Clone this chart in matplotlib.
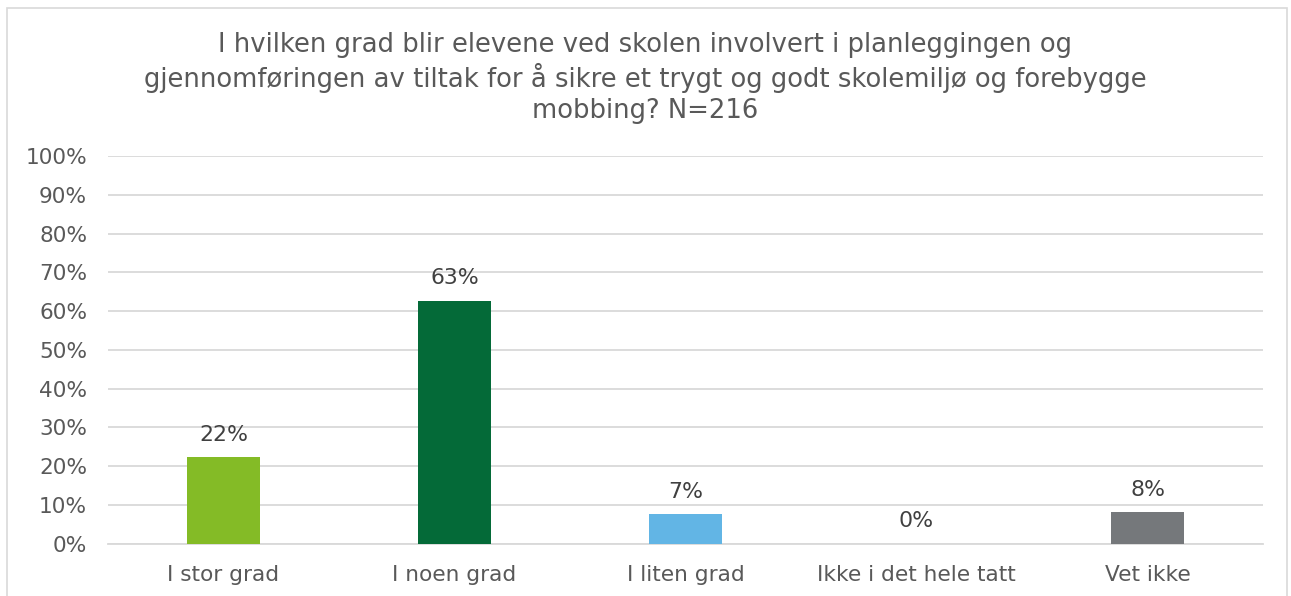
import matplotlib
matplotlib.use("Agg")
import matplotlib.pyplot as plt
from matplotlib.patches import Rectangle
from matplotlib.ticker import MultipleLocator, FuncFormatter

categories = ["I stor grad", "I noen grad", "I liten grad", "Ikke i det hele tatt", "Vet ikke"]
values = [22.4, 62.7, 7.6, 0.0, 8.1]
value_labels = ["22%", "63%", "7%", "0%", "8%"]
colors = ["#84BB26", "#046A38", "#62B5E5", "#A5A5A5", "#75787B"]
title = ("I hvilken grad blir elevene ved skolen involvert i planleggingen og\n"
         "gjennomføringen av tiltak for å sikre et trygt og godt skolemiljø og forebygge\n"
         "mobbing? N=216")

plt.rcParams['font.family'] = ['DejaVu Sans']
W, H = 1291, 596
fig = plt.figure(figsize=(W / 100, H / 100), dpi=100)
fig.patch.set_facecolor("white")

# outer chart border
fig.add_artist(Rectangle((7 / W, -0.01), (1287 - 7) / W, (H - 8) / H + 0.01,
                         transform=fig.transFigure, fill=False,
                         edgecolor="#D9D9D9", linewidth=1.2))

left, right, top, bottom = 108, 1263, 156, 543.7
ax = fig.add_axes([left / W, 1 - bottom / H, (right - left) / W, (bottom - top) / H])
x = list(range(len(categories)))
ax.bar(x, values, width=0.316, color=colors, zorder=3)
ax.set_xlim(-0.5, len(categories) - 0.5)
ax.set_ylim(0, 100)
ax.yaxis.set_major_locator(MultipleLocator(10))
ax.yaxis.set_major_formatter(FuncFormatter(lambda v, p: f"{v:.0f}%"))
ax.grid(axis="y", color="#D9D9D9", linewidth=1.3, zorder=0)
ax.set_axisbelow(True)
for s in ["top", "right", "left"]:
    ax.spines[s].set_visible(False)
ax.spines["bottom"].set_color("#D9D9D9")
ax.spines["bottom"].set_linewidth(1.3)
ax.tick_params(axis="both", length=0, labelsize=15.6, labelcolor="#595959")
ax.tick_params(axis="y", pad=15)
ax.tick_params(axis="x", pad=15)
ax.set_xticks(x)
ax.set_xticklabels(categories)

for xi, v, lab in zip(x, values, value_labels):
    ax.annotate(lab, (xi, v), xytext=(0, 16), textcoords="offset points",
                ha="center", va="center", fontsize=15.8, color="#404040")

fig.text(0.5, 1 - 78 / H, title, ha="center", va="center", fontsize=18.6,
         color="#595959", linespacing=1.22)

fig.savefig("out.png", dpi=100)
